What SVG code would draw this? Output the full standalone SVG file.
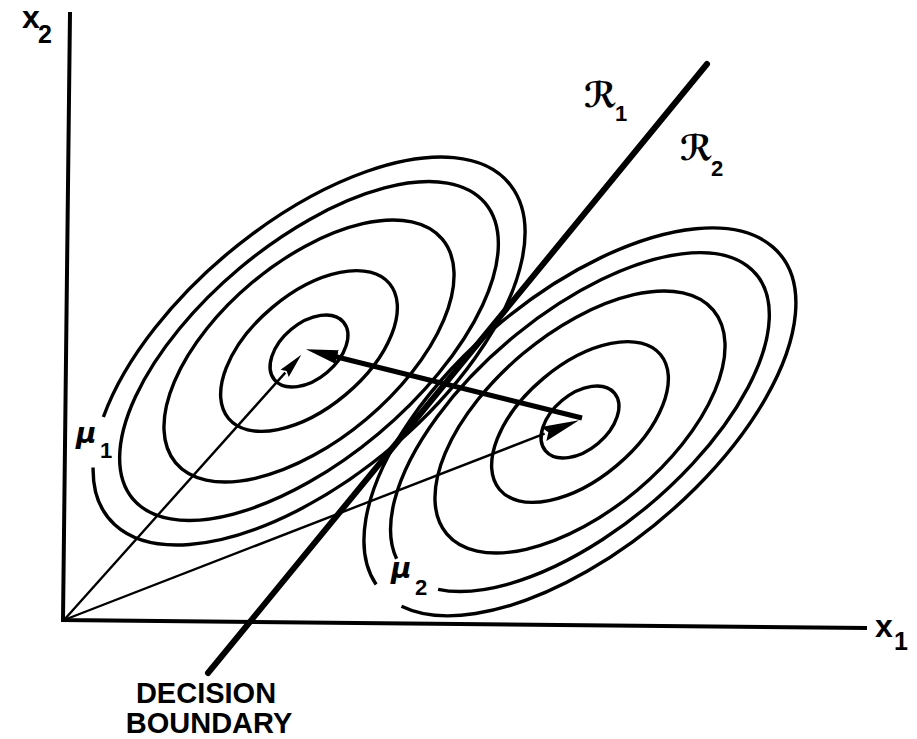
<svg xmlns="http://www.w3.org/2000/svg" width="917" height="739" viewBox="0 0 917 739">
<style>
.ring{fill:none;stroke:#000;stroke-width:3.4}
.axis{fill:none;stroke:#000;stroke-width:4;stroke-linejoin:miter}
.boundary{fill:none;stroke:#000;stroke-width:6;stroke-linecap:round}
.thin{fill:none;stroke:#000;stroke-width:2.4}
.thick{fill:none;stroke:#000;stroke-width:5}
.lbl{font-family:"Liberation Sans",Arial,sans-serif;font-weight:bold;fill:#000}
.greek{font-family:"DejaVu Sans",sans-serif;font-style:oblique;font-weight:bold;fill:#000}
.script{font-family:"DejaVu Serif","DejaVu Sans",serif;font-weight:bold;fill:#000}
.sub{font-family:"Liberation Sans",Arial,sans-serif;font-weight:bold;font-style:normal}
</style>
<defs>
<marker id="headSmall" markerUnits="userSpaceOnUse" viewBox="0 -6 26 12" refX="1" refY="0" markerWidth="26" markerHeight="12" orient="auto"><path d="M0,-5.5 L25,0 L0,5.5 L3,0 Z" fill="#000"/></marker>
<marker id="headLarge" markerUnits="userSpaceOnUse" viewBox="0 -8 39 16" refX="1" refY="0" markerWidth="39" markerHeight="16" orient="auto"><path d="M0,-7.5 L38,0 L0,7.5 L5,0 Z" fill="#000"/></marker>
<marker id="headThick" markerUnits="userSpaceOnUse" viewBox="0 -8 33 16" refX="1" refY="0" markerWidth="33" markerHeight="16" orient="auto"><path d="M0,-7 L32,0 L0,7 Z" fill="#000"/></marker>
</defs>

<g id="axes">
<polyline class="axis" points="70,12 63,620 867,628"/>
</g>

<g id="class1-contours">
<ellipse class="ring" cx="309" cy="351" rx="45" ry="28" transform="rotate(-40 309 351)"/>
<ellipse class="ring" cx="309" cy="351" rx="105" ry="57" transform="rotate(-40 309 351)"/>
<ellipse class="ring" cx="309" cy="351" rx="174" ry="89" transform="rotate(-40 309 351)"/>
<ellipse class="ring" cx="309" cy="351" rx="230" ry="108" transform="rotate(-40 309 351)"/>
<path class="ring" d="M103.4,417 A261,127 -40 1 1 93.1,467.5"/>
</g>

<g id="class2-contours">
<ellipse class="ring" cx="580" cy="422" rx="45" ry="28" transform="rotate(-40 580 422)"/>
<ellipse class="ring" cx="580" cy="422" rx="105" ry="57" transform="rotate(-40 580 422)"/>
<ellipse class="ring" cx="580" cy="422" rx="174" ry="89" transform="rotate(-40 580 422)"/>
<path class="ring" d="M396.6,558.7 A230,108 -40 1 1 438.1,589.3"/>
<path class="ring" d="M376.1,584.5 A261,127 -40 1 1 401.5,606.3"/>
</g>

<g id="connectors">
<line class="boundary" x1="707" y1="64" x2="208" y2="673"/>
<line class="thin" x1="64" y1="620" x2="285.3" y2="372.6" marker-end="url(#headSmall)"/>
<line class="thin" x1="64" y1="620" x2="544.6" y2="433.7" marker-end="url(#headLarge)"/>
<line class="thick" x1="582" y1="418" x2="336" y2="356.7" marker-end="url(#headThick)"/>
</g>

<g id="labels">
<text class="lbl" x="22" y="28" font-size="32">x<tspan class="sub" x="38" y="43" font-size="25">2</tspan></text>
<text class="lbl" x="875" y="637" font-size="32">x<tspan class="sub" x="894" y="650" font-size="25">1</tspan></text>
<text class="script" x="584" y="107" font-size="35">ℛ<tspan class="sub" x="615" y="121" font-size="22">1</tspan></text>
<text class="script" x="680" y="160" font-size="35">ℛ<tspan class="sub" x="711" y="176" font-size="22">2</tspan></text>
<text class="greek" x="76" y="443" font-size="28">μ<tspan class="sub" x="100" y="458" font-size="22">1</tspan></text>
<text class="greek" x="391" y="578" font-size="28">μ<tspan class="sub" x="415" y="595" font-size="22">2</tspan></text>
<text class="lbl" x="206" y="703" font-size="29" text-anchor="middle">DECISION</text>
<text class="lbl" x="209" y="733" font-size="29" text-anchor="middle">BOUNDARY</text>
</g>
</svg>
